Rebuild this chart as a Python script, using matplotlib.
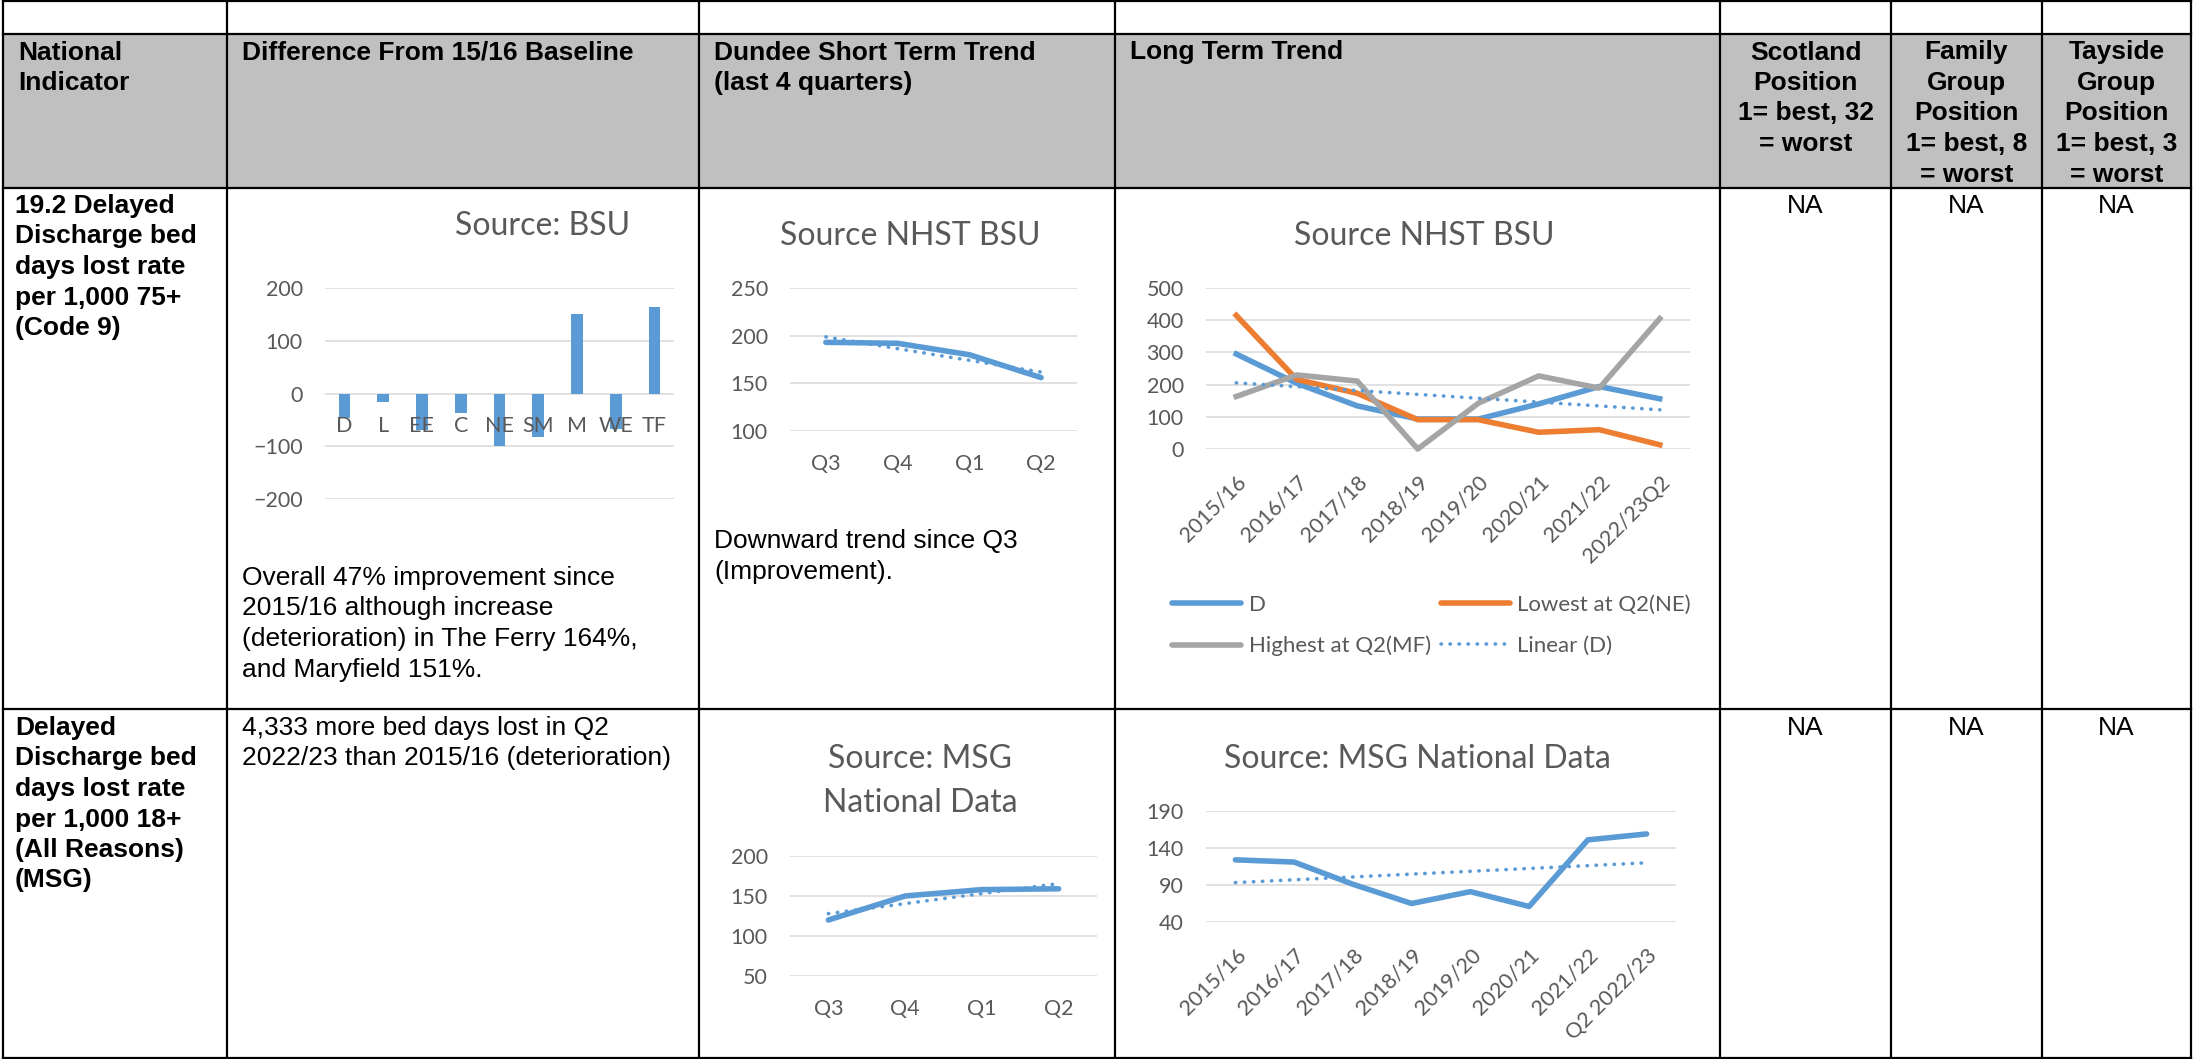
import matplotlib.pyplot as plt
from matplotlib.lines import Line2D
from matplotlib.patches import Rectangle
import numpy as np

W, H = 2193, 1059
DPI = 100

# ---- data ----
areas = ['D', 'L', 'EE', 'C', 'NE', 'SM', 'M', 'WE', 'TF']
area_diff = [-47, -16, -70, -37, -99, -82, 151, -68, 164]

quarters = ['Q3', 'Q4', 'Q1', 'Q2']
dd75_quarterly = [193, 192, 180, 156]

years_75 = ['2015/16', '2016/17', '2017/18', '2018/19', '2019/20', '2020/21', '2021/22', '2022/23Q2']
dd75_dundee = [295, 204, 134, 93, 93, 140, 194, 156]
dd75_lowest_ne = [415, 216, 173, 91, 91, 52, 60, 13]
dd75_highest_mf = [163, 230, 211, 0, 142, 227, 189, 405]

msg_quarterly = [120, 150, 158, 159]

years_msg = ['2015/16', '2016/17', '2017/18', '2018/19', '2019/20', '2020/21', '2021/22', 'Q2 2022/23']
msg_annual = [124, 121, 91, 65, 81, 61, 151, 159]

header_cells = [
    ['National', 'Indicator'],
    ['Difference From 15/16 Baseline'],
    ['Dundee Short Term Trend', '(last 4 quarters)'],
    ['Long Term Trend'],
    ['Scotland', 'Position', '1= best, 32', '= worst'],
    ['Family', 'Group', 'Position', '1= best, 8', '= worst'],
    ['Tayside', 'Group', 'Position', '1= best, 3', '= worst'],
]
indicator_1 = ['19.2 Delayed', 'Discharge bed', 'days lost rate', 'per 1,000 75+', '(Code 9)']
indicator_2 = ['Delayed', 'Discharge bed', 'days lost rate', 'per 1,000 18+', '(All Reasons)', '(MSG)']
note_bars = ['Overall 47% improvement since', '2015/16 although increase',
             '(deterioration) in The Ferry 164%,', 'and Maryfield 151%.']
note_short = ['Downward trend since Q3', '(Improvement).']
note_msg = ['4,333 more bed days lost in Q2', '2022/23 than 2015/16 (deterioration)']

# ---- style ----
BLUE = '#5B9BD5'
ORANGE = '#ED7D31'
GREY = '#A5A5A5'
GRID = '#D9D9D9'
TXT = '#595959'
HEAD_BG = '#C0C0C0'
TICK_FS = 15.5
LEG_FS = 16
TITLE_FS = 23
BODY_FS = 19
LINE_H = 30.5
SERIES_LW = 4
TABLE_FONT = 'Liberation Sans'
DOTS = (0, (0.1, 2.4))

plt.rcParams['font.family'] = ['Lato', 'DejaVu Sans']

col_x = [3, 227, 699, 1115, 1720, 1891, 2042, 2191]
row_y = [1, 34, 188, 709, 1058]

fig = plt.figure(figsize=(W / DPI, H / DPI), dpi=DPI)
fig.patch.set_facecolor('white')

tab = fig.add_axes([0, 0, 1, 1])
tab.set_xlim(0, W)
tab.set_ylim(H, 0)
tab.axis('off')

# header shading and grid lines
tab.add_patch(Rectangle((col_x[0], row_y[1]), col_x[-1] - col_x[0], row_y[2] - row_y[1],
                        facecolor=HEAD_BG, edgecolor='none', zorder=0))
for y in row_y:
    tab.plot([col_x[0], col_x[-1]], [y, y], color='black', lw=1.6, solid_capstyle='projecting')
for x in col_x:
    tab.plot([x, x], [row_y[0], row_y[-1]], color='black', lw=1.6, solid_capstyle='projecting')


def write_lines(lines, x, y0, ha='left', weight='normal', size=BODY_FS):
    for i, s in enumerate(lines):
        tab.text(x, y0 + i * LINE_H, s, ha=ha, va='baseline', fontsize=size,
                 fontweight=weight, family=TABLE_FONT, color='black')


# header text
for i, lines in enumerate(header_cells):
    if i < 4:
        write_lines(lines, col_x[i] + 15, 59.5, weight='bold')
    else:
        write_lines(lines, (col_x[i] + col_x[i + 1]) / 2, 59.5, ha='center', weight='bold')

# body text
write_lines(indicator_1, 15, 213, weight='bold')
write_lines(indicator_2, 15, 735, weight='bold')
write_lines(note_bars, 242, 585)
write_lines(note_short, 714, 548)
write_lines(note_msg, 242, 735)
for i in range(4, 7):
    cx = (col_x[i] + col_x[i + 1]) / 2
    write_lines(['NA'], cx, 213, ha='center')
    write_lines(['NA'], cx, 735, ha='center')


def chart_axes(x0, y0, x1, y1):
    return fig.add_axes([x0 / W, 1 - y1 / H, (x1 - x0) / W, (y1 - y0) / H])


def style_chart(ax, yticks, ncat):
    ax.set_facecolor('none')
    for s in ax.spines.values():
        s.set_visible(False)
    ax.set_ylim(yticks[0], yticks[-1])
    ax.set_yticks(yticks)
    ax.set_xlim(-0.5, ncat - 0.5)
    for t in yticks:
        ax.axhline(t, color=GRID, lw=1.1, zorder=0)
    ax.tick_params(axis='y', length=0, pad=16, labelsize=TICK_FS, labelcolor=TXT)
    ax.tick_params(axis='x', length=0, pad=16.5, labelsize=TICK_FS, labelcolor=TXT)


def title(x, y, s):
    tab.text(x, y, s, ha='center', va='baseline', fontsize=TITLE_FS, color=TXT)


def trend(ax, y):
    x = np.arange(len(y))
    coef = np.polyfit(x, y, 1)
    ax.plot(x, np.polyval(coef, x), color=BLUE, lw=2.6, linestyle=DOTS,
            dash_capstyle='round', clip_on=False, zorder=5)


def rotate_labels(ax):
    for lab in ax.get_xticklabels():
        lab.set_rotation(45)
        lab.set_ha('right')
        lab.set_va('top')
        lab.set_rotation_mode('anchor')


# chart 1: difference from baseline by area
ax1 = chart_axes(325, 288, 674, 499)
style_chart(ax1, [-200, -100, 0, 100, 200], len(areas))
ax1.bar(np.arange(len(areas)), area_diff, width=0.3, color=BLUE, zorder=1)
ax1.set_xticks(np.arange(len(areas)))
ax1.set_xticklabels(areas)
ax1.spines['bottom'].set_position(('data', 0))
title(543, 235, 'Source: BSU')

# chart 2: short term trend 75+
ax2 = chart_axes(790, 288, 1077, 431)
style_chart(ax2, [100, 150, 200, 250], len(quarters))
ax2.plot(np.arange(4), dd75_quarterly, color=BLUE, lw=SERIES_LW, clip_on=False,
         solid_capstyle='round', solid_joinstyle='round')
trend(ax2, dd75_quarterly)
ax2.set_xticks(np.arange(4))
ax2.set_xticklabels(quarters)
title(910, 245, 'Source NHST BSU')

# chart 3: long term trend 75+
ax3 = chart_axes(1206, 288, 1690, 449)
style_chart(ax3, [0, 100, 200, 300, 400, 500], len(years_75))
xs = np.arange(len(years_75))
ax3.plot(xs, dd75_dundee, color=BLUE, lw=SERIES_LW, clip_on=False, solid_joinstyle='round')
ax3.plot(xs, dd75_lowest_ne, color=ORANGE, lw=SERIES_LW, clip_on=False, solid_joinstyle='round')
ax3.plot(xs, dd75_highest_mf, color=GREY, lw=SERIES_LW, clip_on=False, solid_joinstyle='round')
trend(ax3, dd75_dundee)
ax3.set_xticks(xs)
ax3.set_xticklabels(years_75)
rotate_labels(ax3)
title(1424, 245, 'Source NHST BSU')

handles = [
    Line2D([], [], color=BLUE, lw=SERIES_LW, solid_capstyle='round'),
    Line2D([], [], color=GREY, lw=SERIES_LW, solid_capstyle='round'),
    Line2D([], [], color=ORANGE, lw=SERIES_LW, solid_capstyle='round'),
    Line2D([], [], color=BLUE, lw=2.6, linestyle=DOTS, dash_capstyle='round'),
]
labels = ['D', 'Highest at Q2(MF)', 'Lowest at Q2(NE)', 'Linear (D)']
fig.legend(handles, labels, ncol=2, loc='center left', bbox_to_anchor=(1172 / W, 1 - 625.5 / H),
           frameon=False, fontsize=LEG_FS, labelcolor=TXT, handlelength=3.1,
           handletextpad=0.35, columnspacing=0.45, labelspacing=0.95, borderpad=0, borderaxespad=0)

# chart 4: short term trend MSG
ax4 = chart_axes(790, 856, 1097, 976)
style_chart(ax4, [50, 100, 150, 200], len(quarters))
ax4.plot(np.arange(4), msg_quarterly, color=BLUE, lw=SERIES_LW, clip_on=False,
         solid_capstyle='round', solid_joinstyle='round')
trend(ax4, msg_quarterly)
ax4.set_xticks(np.arange(4))
ax4.set_xticklabels(quarters)
title(920, 768, 'Source: MSG')
title(920, 812, 'National Data')

# chart 5: long term trend MSG
ax5 = chart_axes(1206, 811, 1676, 922)
style_chart(ax5, [40, 90, 140, 190], len(years_msg))
ax5.plot(np.arange(len(years_msg)), msg_annual, color=BLUE, lw=SERIES_LW, clip_on=False,
         solid_capstyle='round', solid_joinstyle='round')
trend(ax5, msg_annual)
ax5.set_xticks(np.arange(len(years_msg)))
ax5.set_xticklabels(years_msg)
rotate_labels(ax5)
title(1417, 768, 'Source: MSG National Data')

fig.savefig('out.png', dpi=DPI, facecolor='white')
